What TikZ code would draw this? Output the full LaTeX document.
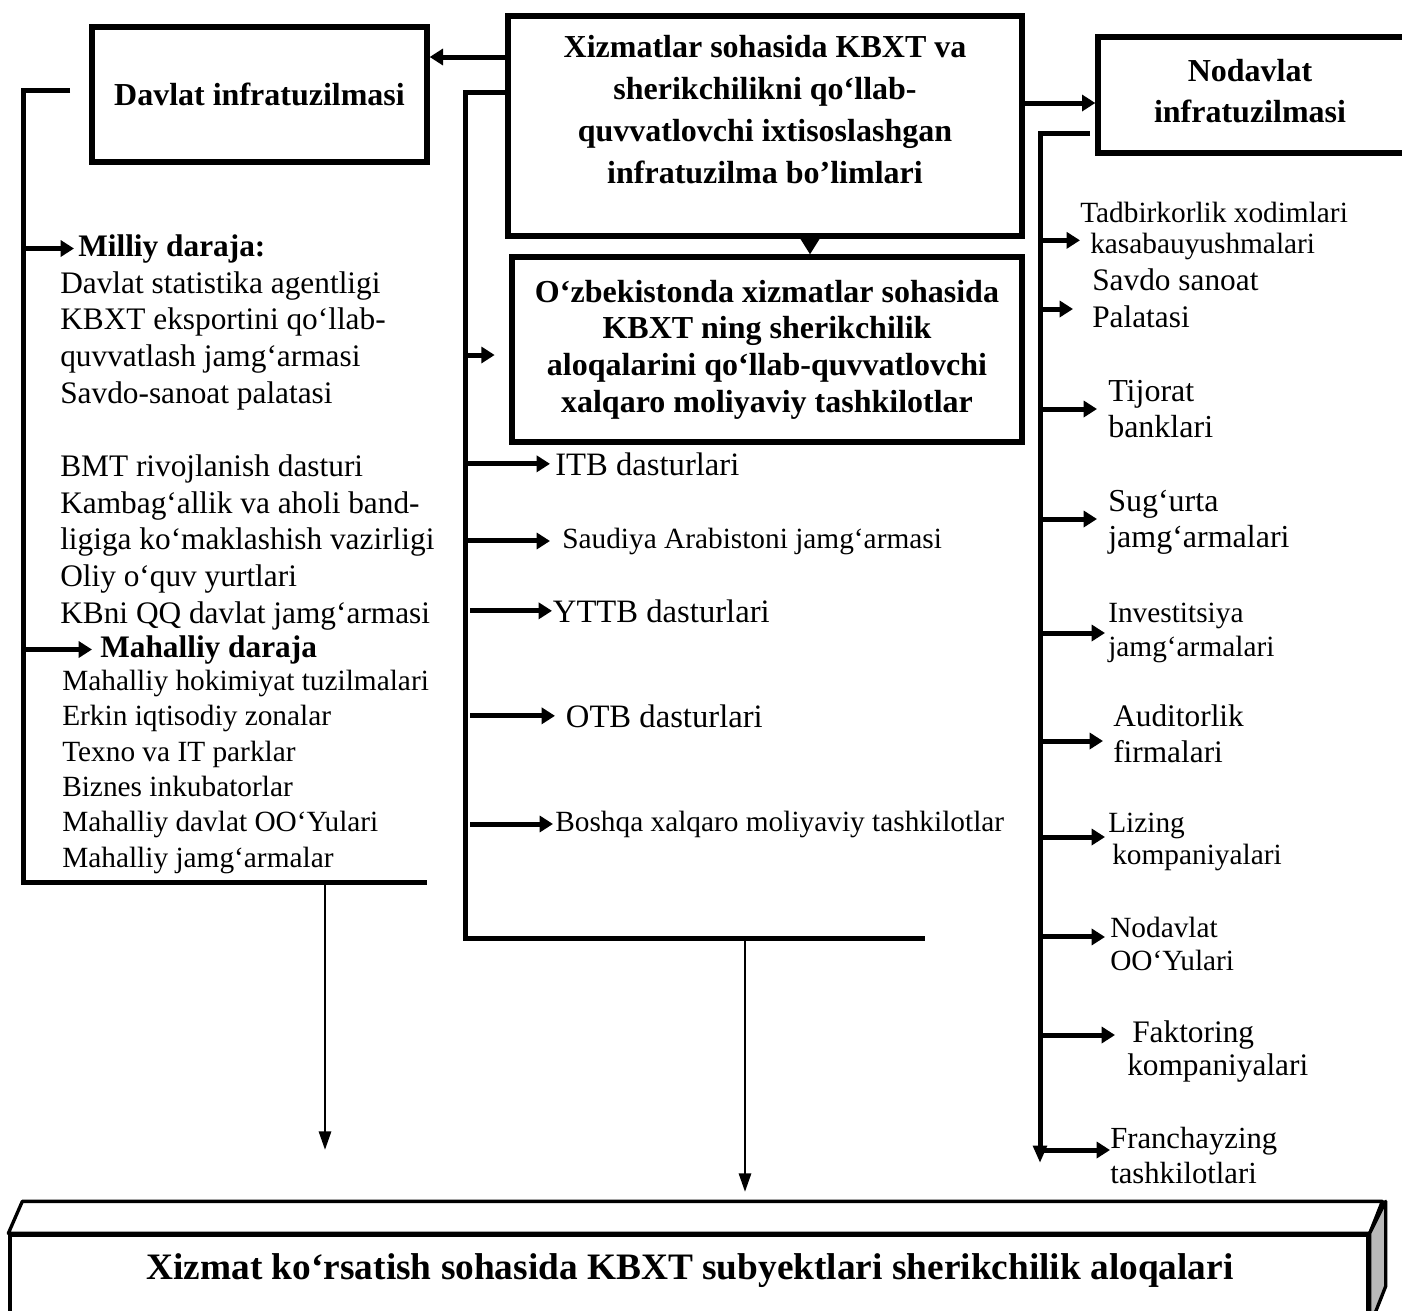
\documentclass[tikz,border=0pt]{standalone}
\usepackage{fontspec}
\setmainfont{Liberation Serif}
\usetikzlibrary{arrows.meta}
\begin{document}
\begin{tikzpicture}[x=0.75pt,y=-0.75pt,
  box/.style={draw, line width=4pt, inner sep=0pt},
  wh/.style 2 args={minimum width=#1*0.75pt, minimum height=#2*0.75pt},
  conn/.style={line width=3.75pt},
  arr/.style={line width=3.75pt, -{Triangle[length=10pt,width=12pt]}},
  downarr/.style={line width=2.2pt, -{Triangle[length=14pt,width=9pt]}},
  bhead/.style={align=center, font=\bfseries\fontsize{24}{31.5}\selectfont},
  ritem/.style={anchor=west, align=left, inner sep=0pt},
  mitem/.style={anchor=base west, inner sep=0pt},
  fs/.style 2 args={font=\fontsize{#1}{#2}\selectfont},
]
\useasboundingbox (0,0) rectangle (1402,1310);

% ---------- main boxes ----------
\node[box, wh={514}{220}] (topbox) at (765,126) {};
\node[bhead] (toptext) at (765,110) {Xizmatlar sohasida KBXT va\\sherikchilikni qo‘llab-\\quvvatlovchi ixtisoslashgan\\infratuzilma bo’limlari};

\node[box, wh={335}{135}, font=\bfseries\fontsize{24}{28}\selectfont] (davbox) at (259.5,94.5) {Davlat infratuzilmasi};

\node[box, wh={340}{116}] (nodbox) at (1268,95) {};
\node[align=center, font=\bfseries\fontsize{24}{31}\selectfont] (nodtext) at (1250,91) {Nodavlat\\infratuzilmasi};

\node[box, wh={510}{185}, align=center, font=\bfseries\fontsize{24}{27.5}\selectfont] (midbox) at (767,349.5) {O‘zbekistonda xizmatlar sohasida\\KBXT ning sherikchilik\\aloqalarini qo‘llab-quvvatlovchi\\xalqaro moliyaviy tashkilotlar};

% ---------- top connectors ----------
\coordinate (ya) at (0,57);
\draw[arr] (topbox.west |- ya) -- (davbox.east |- ya);
\coordinate (yb) at (0,103);
\draw[arr] (topbox.east |- yb) -- (nodbox.west |- yb);
\coordinate (mx) at (810,0);
\draw[line width=2pt, -{Triangle[length=12.5pt,width=15pt]}] (topbox.south -| mx) -- (midbox.north -| mx);

% ---------- left column ----------
\coordinate (lbA) at (70,90);
\coordinate (lbB) at (23,882);
\coordinate (lbC) at (427,882);
\draw[conn] (lbA) -| (lbB) -- (lbC);
\coordinate (ldA) at (325,882);
\coordinate (ldB) at (325,1150);
\draw[downarr] (ldA) -- (ldB);
\coordinate (lx) at (23,0);

\node[mitem, inner xsep=3pt, font=\bfseries\fontsize{23.5}{27}\selectfont] (milliy) at (74,256) {Milliy daraja:};
\draw[arr] (milliy.west -| lx) -- (milliy.west);
\node[anchor=north west, inner sep=0pt, align=left, fs={23.5}{27.5}] (natlist) at (60,271) {Davlat statistika agentligi\\KBXT eksportini qo‘llab-\\quvvatlash jamg‘armasi\\Savdo-sanoat palatasi\\[27.5pt]BMT rivojlanish dasturi\\Kambag‘allik va aholi band-\\ligiga ko‘maklashish vazirligi\\Oliy o‘quv yurtlari\\KBni QQ davlat jamg‘armasi};

\node[mitem, inner xsep=6pt, font=\bfseries\fontsize{23.5}{27}\selectfont] (mahalliy) at (92,657) {Mahalliy daraja};
\draw[arr] (mahalliy.west -| lx) -- (mahalliy.west);
\node[anchor=north west, inner sep=0pt, align=left, fs={22}{26.5}] (loclist) at (62,670) {Mahalliy hokimiyat tuzilmalari\\Erkin iqtisodiy zonalar\\Texno va IT parklar\\Biznes inkubatorlar\\Mahalliy davlat OO‘Yulari\\Mahalliy jamg‘armalar};

% ---------- middle column ----------
\coordinate (my) at (0,92);
\coordinate (mbB) at (465,938);
\coordinate (mbC) at (925,938);
\draw[conn] (topbox.west |- my) -| (mbB) -- (mbC);
\coordinate (mdB) at (745,1192);
\draw[downarr] (mbB -| mdB) -- (mdB);
\coordinate (mz) at (465,355);
\draw[arr] (mz) -- ([xshift=-11pt]midbox.west |- mz);

\coordinate (mx1) at (465,0);
\coordinate (mx2) at (470,0);
\node[mitem, inner xsep=3.75pt, fs={24.5}{28}] (itb) at (550,475) {ITB dasturlari};
\draw[arr] (itb.west -| mx1) -- (itb.west);
\node[mitem, inner xsep=9pt, fs={22}{26}] (saud) at (550,548) {Saudiya Arabistoni jamg‘armasi};
\draw[arr] (saud.west -| mx1) -- (saud.west);
\node[mitem, inner xsep=0.5pt, fs={24.5}{28}] (yttb) at (552,622) {YTTB dasturlari};
\draw[arr] (yttb.west -| mx2) -- (yttb.west);
\node[mitem, inner xsep=8pt, fs={24.5}{28}] (otb) at (555,727) {OTB dasturlari};
\draw[arr] (otb.west -| mx2) -- (otb.west);
\node[mitem, inner xsep=1.5pt, fs={22}{26}] (boshqa) at (553,831) {Boshqa xalqaro moliyaviy tashkilotlar};
\draw[arr] (boshqa.west -| mx2) -- (boshqa.west);

% ---------- right column ----------
\coordinate (rbA) at (1090,133);
\coordinate (rbB) at (1040,1163);
\draw[line width=3.75pt, -{Triangle[length=13pt,width=10pt]}] (rbA) -| (rbB);
\coordinate (rx) at (1040,0);

\node[ritem, fs={22}{23.5}] (tad) at (1080,231) {Tadbirkorlik xodimlari\\\hspace*{7.5pt}kasabauyushmalari};
\draw[arr] ([yshift=-7pt]tad.west -| rx) -- ([yshift=-7pt]tad.west);
\node[ritem, inner xsep=14.25pt, fs={23.5}{27.75}] (savdo) at (1073,298) {Savdo sanoat\\Palatasi};
\draw[arr] ([yshift=-8.25pt]savdo.west -| rx) -- ([yshift=-8.25pt]savdo.west);
\node[ritem, inner xsep=8.25pt, fs={24}{27}] (tij) at (1097,409) {Tijorat\\banklari};
\draw[arr] (tij.west -| rx) -- (tij.west);
\node[ritem, inner xsep=8.25pt, fs={24}{27}] (sug) at (1097,522.6) {Sug‘urta\\jamg‘armalari};
\draw[arr] ([yshift=2.7pt]sug.west -| rx) -- ([yshift=2.7pt]sug.west);
\node[ritem, inner xsep=2.25pt, fs={22}{25.5}] (inv) at (1105,633) {Investitsiya\\jamg‘armalari};
\draw[arr] (inv.west -| rx) -- (inv.west);
\node[ritem, inner xsep=7.5pt, fs={23.5}{27}] (aud) at (1103,734) {Auditorlik\\firmalari};
\draw[arr] ([yshift=-5.25pt]aud.west -| rx) -- ([yshift=-5.25pt]aud.west);
\node[ritem, inner xsep=2.25pt, fs={22}{24}] (liz) at (1105,842) {Lizing\\\hspace*{3pt}kompaniyalari};
\draw[arr] ([yshift=3.75pt]liz.west -| rx) -- ([yshift=3.75pt]liz.west);
\node[ritem, inner xsep=3.75pt, fs={22}{24.75}] (nod) at (1105,943.5) {Nodavlat\\OO‘Yulari};
\draw[arr] ([yshift=4.9pt]nod.west -| rx) -- ([yshift=4.9pt]nod.west);
\node[ritem, inner xsep=9pt, fs={23.5}{24.75}] (fak) at (1115,1051) {\hspace*{3.75pt}Faktoring\\kompaniyalari};
\draw[arr] ([yshift=12pt]fak.west -| rx) -- ([yshift=12pt]fak.west);
\node[ritem, inner xsep=0pt, fs={23}{26.25}] (fra) at (1110,1155) {Franchayzing\\tashkilotlari};
\draw[arr] ([yshift=3.75pt]fra.west -| rx) -- ([yshift=3.75pt]fra.west);

% ---------- bottom 3D box ----------
\node[draw, line width=2.5pt, fill=white, wh={1358}{90}] (base) at (689,1280) {};
\draw[line width=2.5pt, fill=white, line join=round] (base.north west) -- ++(14,-32) -- ++(1360,0) -- (base.north east) -- cycle;
\draw[line width=2.5pt, fill=gray!55, line join=round] (base.north east) -- ++(16,-32) -- ++(0,85) -- (base.south east) -- cycle;
\node[font=\bfseries\fontsize{28}{32}\selectfont] (basetext) at (690,1271) {Xizmat ko‘rsatish sohasida KBXT subyektlari sherikchilik aloqalari};
\end{tikzpicture}
\end{document}
